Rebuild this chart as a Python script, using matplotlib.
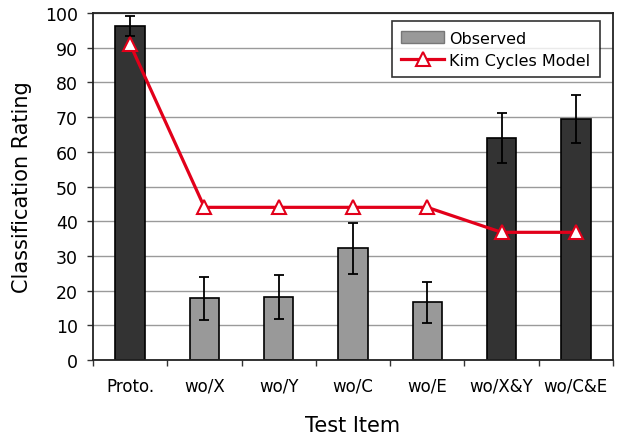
import matplotlib
matplotlib.use("Agg")
import matplotlib.pyplot as plt
import numpy as np
from matplotlib.patches import Patch
from matplotlib.lines import Line2D

categories = ["Proto.", "wo/X", "wo/Y", "wo/C", "wo/E", "wo/X&Y", "wo/C&E"]
observed = [96.2, 17.8, 18.1, 32.2, 16.7, 64.0, 69.4]
errors = [2.9, 6.2, 6.3, 7.4, 5.9, 7.3, 7.0]
model = [91.0, 44.0, 44.0, 44.0, 44.0, 36.8, 36.8]
bar_colors = ["#333333", "#999999", "#999999", "#999999", "#999999", "#333333", "#333333"]

plt.rcParams['font.family'] = ['DejaVu Sans']

fig = plt.figure(figsize=(6.3, 4.39), dpi=100)
ax = fig.add_axes([0.1476, 0.1777, 0.8254, 0.7903])

x = np.arange(len(categories))
ax.set_axisbelow(True)
ax.yaxis.grid(True, color="#9a9a9a", linewidth=1.0)
ax.bar(x, observed, width=0.395, color=bar_colors, edgecolor="black", linewidth=1.2,
       yerr=errors, error_kw=dict(ecolor="black", elinewidth=1.3, capsize=3.5, capthick=1.3),
       zorder=2)
ax.plot(x, model, color="#e2001a", linewidth=2.3, marker="^", markersize=9.5,
        markerfacecolor="white", markeredgecolor="#e2001a", markeredgewidth=1.5, zorder=3)

ax.set_xlim(-0.5, len(categories) - 0.5)
ax.set_ylim(0, 100)
ax.set_yticks(np.arange(0, 101, 10))
ax.set_xticks(x)
ax.set_xticklabels(categories)
ax.set_xticks(np.arange(-0.5, len(categories), 1.0), minor=True)
ax.tick_params(axis="x", which="major", length=0, pad=12, labelsize=12)
ax.tick_params(axis="x", which="minor", length=4.3, width=1, color="#333333")
ax.tick_params(axis="y", length=4.3, width=1, labelsize=12.5, pad=6.5, color="#333333")
for s in ax.spines.values():
    s.set_linewidth(1.3)
    s.set_color("#222222")

ax.set_ylabel("Classification Rating", fontsize=15, labelpad=9)
ax.set_xlabel("Test Item", fontsize=15, labelpad=15)

handles = [Patch(facecolor="#999999", edgecolor="#777777"),
           Line2D([0], [0], color="#e2001a", linewidth=2.3, marker="^", markersize=9.5,
                  markerfacecolor="white", markeredgecolor="#e2001a", markeredgewidth=1.5)]
leg = ax.legend(handles, ["Observed", "Kim Cycles Model"], loc="upper right",
                bbox_to_anchor=(0.975, 0.977), fontsize=11.5, frameon=True, fancybox=False,
                edgecolor="black", handlelength=2.7, handletextpad=0.3, borderpad=0.6,
                labelspacing=0.45, borderaxespad=0)
leg.get_frame().set_linewidth(1.2)

fig.savefig("out.png", dpi=100)
